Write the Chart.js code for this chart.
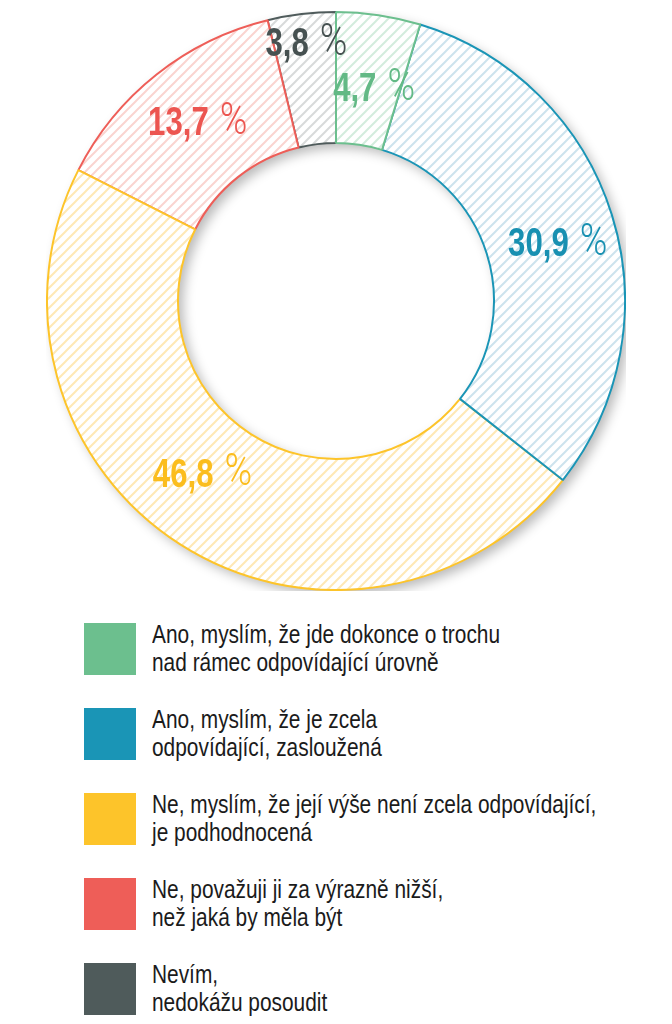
<!DOCTYPE html>
<html>
<head>
<meta charset="utf-8">
<script src="https://cdn.jsdelivr.net/npm/chart.js@4/dist/chart.umd.min.js"></script>
<style>
  html, body { margin: 0; padding: 0; background: #fff; }
  body { width: 672px; height: 1024px; position: relative; overflow: hidden; }
  #wrap { position: absolute; left: 46px; top: 11px; width: 580px; height: 580px; }
  #legend { position: absolute; left: 84px; top: 623px; margin: 0; padding: 0; list-style: none; }
  #legend li { display: flex; align-items: flex-start; height: 85px; }
  #legend .box { width: 52px; height: 52px; flex: none; margin-right: 16px; }
  #legend .txt { font-family: 'Liberation Sans', Arial, sans-serif; font-size: 25px; line-height: 28px;
    color: #1b1b1b; margin-top: -3px; white-space: nowrap;
    transform: scaleX(0.835); transform-origin: 0 0; }
</style>
</head>
<body>
<div id="wrap"><canvas id="donut"></canvas></div>
<ul id="legend"></ul>
<script>
// ── data ─────────────────────────────────────────────
const categories = [
    ['Ano, myslím, že jde dokonce o trochu', 'nad rámec odpovídající úrovně'],
    ['Ano, myslím, že je zcela', 'odpovídající, zasloužená'],
    ['Ne, myslím, že její výše není zcela odpovídající,', 'je podhodnocená'],
    ['Ne, považuji ji za výrazně nižší,', 'než jaká by měla být'],
    ['Nevím,', 'nedokážu posoudit']
];
const values = [4.7, 30.9, 46.8, 13.7, 3.8];
const valueLabels = ['4,7', '30,9', '46,8', '13,7', '3,8'];

const mainColors = ['#6cbf8e', '#1a95b6', '#fdc42a', '#ee5e58', '#4f5b5b'];
const hatchColors = ['#d3ecdd', '#cde3ed', '#fee8b5', '#fad4d0', '#d8dada'];
const labelColors = ['#62b985', '#1890b1', '#fbbd1e', '#ec5550', '#465151'];

// label placement: radius as share of outer radius, angle shift in degrees
const labelPlace = [[0.747, 1.7], [0.792, 3], [0.757, 5], [0.781, 0.6], [0.896, 0.3]];

function hatch(color) {
    const c = document.createElement('canvas');
    c.width = 10; c.height = 10;
    const g = c.getContext('2d');
    g.fillStyle = '#fff';
    g.fillRect(0, 0, 10, 10);
    g.strokeStyle = color;
    g.lineWidth = 2;
    g.beginPath();
    g.moveTo(-5, 5); g.lineTo(5, -5);
    g.moveTo(0, 10); g.lineTo(10, 0);
    g.moveTo(5, 15); g.lineTo(15, 5);
    g.stroke();
    return g.createPattern(c, 'repeat');
}

// shadow under the whole ring + draw slices in reverse so earlier borders sit on top
const ringPlugin = {
    id: 'ring',
    beforeDatasetDraw(chart, args) {
        const ctx = chart.ctx;
        const arcs = args.meta.data;
        const a = arcs[0];
        ctx.save();
        ctx.shadowColor = 'rgba(0,0,0,0.28)';
        ctx.shadowBlur = 12;
        ctx.shadowOffsetX = 5;
        ctx.shadowOffsetY = 5;
        ctx.fillStyle = '#fff';
        ctx.beginPath();
        ctx.arc(a.x, a.y, a.outerRadius, 0, Math.PI * 2);
        ctx.arc(a.x, a.y, a.innerRadius, 0, Math.PI * 2, true);
        ctx.fill();
        ctx.restore();
        for (let i = arcs.length - 1; i >= 0; i--) arcs[i].draw(ctx);
        return false;
    },
    afterDatasetsDraw(chart) {
        const ctx = chart.ctx;
        const arcs = chart.getDatasetMeta(0).data;
        const sx = 0.76;
        const numFont = "bold 41px 'Liberation Sans', Arial, sans-serif";
        const pctFont = "300 44px Roboto, 'DejaVu Sans', sans-serif";
        arcs.forEach((arc, i) => {
            const [rf, shift] = labelPlace[i];
            const mid = (arc.startAngle + arc.endAngle) / 2 + shift * Math.PI / 180;
            const r = arc.outerRadius * rf;
            const x = arc.x + Math.cos(mid) * r;
            const y = arc.y + Math.sin(mid) * r;
            ctx.save();
            ctx.textBaseline = 'middle';
            ctx.font = numFont;
            const w1 = ctx.measureText(valueLabels[i]).width * sx;
            ctx.font = pctFont;
            const w2 = ctx.measureText('%').width * 0.85;
            const gap = 11;
            const left = x - (w1 + gap + w2) / 2;
            ctx.fillStyle = labelColors[i];
            ctx.translate(left, y);
            ctx.scale(sx, 1);
            ctx.font = numFont;
            ctx.fillText(valueLabels[i], 0, 1);
            ctx.setTransform(1, 0, 0, 1, 0, 0);
            ctx.translate(left + w1 + gap, y);
            ctx.scale(0.85, 1);
            ctx.font = pctFont;
            ctx.fillText('%', 0, 0);
            ctx.restore();
        });
    }
};

new Chart(document.getElementById('donut'), {
    type: 'doughnut',
    data: {
        labels: categories.map(c => c.join(' ')),
        datasets: [{
            data: values,
            backgroundColor: hatchColors.map(hatch),
            borderColor: mainColors,
            borderWidth: 2
        }]
    },
    options: {
        responsive: true,
        maintainAspectRatio: false,
        animation: false,
        cutout: 158,
        layout: { padding: 0 },
        plugins: {
            legend: { display: false },
            tooltip: { enabled: false }
        }
    },
    plugins: [ringPlugin]
});

const legend = document.getElementById('legend');
categories.forEach((lines, i) => {
    const li = document.createElement('li');
    const box = document.createElement('span');
    box.className = 'box';
    box.style.background = mainColors[i];
    const txt = document.createElement('span');
    txt.className = 'txt';
    lines.forEach((line, k) => {
        if (k) txt.appendChild(document.createElement('br'));
        txt.appendChild(document.createTextNode(line));
    });
    li.appendChild(box);
    li.appendChild(txt);
    legend.appendChild(li);
});
</script>
</body>
</html>
